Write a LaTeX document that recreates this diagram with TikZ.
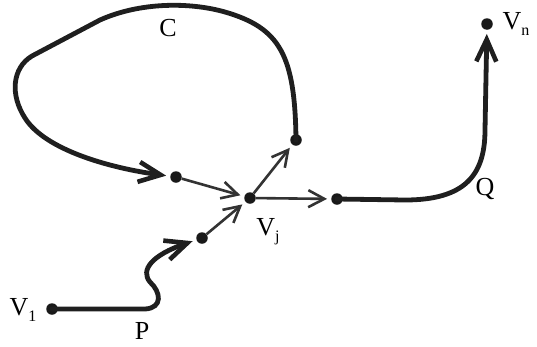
\documentclass[tikz,border=0pt]{standalone}
\usepackage{fontspec}
\setmainfont{Liberation Serif}
\usetikzlibrary{arrows.meta}
\newcommand\lblsub[1]{\raisebox{-0.5ex}{\fontsize{16}{16}\selectfont #1}}
\begin{document}
\begin{tikzpicture}[x=1pt,y=-1pt,
  dot/.style={circle,fill=black!90,inner sep=0pt,minimum size=11.5pt},
  thickpath/.style={line width=4.8pt,draw=black!88,line cap=round,
    -{Straight Barb[length=22pt,width=20pt,line width=4.6pt]},shorten >=4pt},
  thinarrow/.style={line width=2.6pt,draw=black!80,
    -{Straight Barb[length=16pt,width=17pt,line width=2.6pt]},shorten >=4pt},
  lbl/.style={font=\fontsize{26}{26}\selectfont,inner sep=0pt}]
\useasboundingbox (0,0) rectangle (537,346);
% dots
\node[dot] (v1) at (52,309) {};
\node[dot] (a) at (202,238) {};
\node[dot] (vj) at (250,198) {};
\node[dot] (b) at (176,177) {};
\node[dot] (c) at (296,140) {};
\node[dot] (d) at (337,199) {};
\node[dot] (vn) at (487,24) {};
% labels
\node[lbl] (lc) at (168,28) {C};
\node[lbl] (lvj) at (268,232) {V\lblsub{j}};
\node[lbl] (lv1) at (23,310) {V\lblsub{1}};
\node[lbl] (lp) at (142,331) {P};
\node[lbl] (lq) at (485,189) {Q};
\node[lbl] (lvn) at (516,24) {V\lblsub{n}};
% thick paths
\draw[thickpath] (v1.center) -- (145,309) .. controls (163,308) and (161,292) .. (150,282)
  .. controls (140,270) and (152,255) .. (a);
\draw[thickpath] (c.center) .. controls (295,55) and (280,28) .. (225,12)
  .. controls (190,2) and (140,2) .. (100,20) -- (32,56)
  .. controls (12,68) and (10,95) .. (25,118)
  .. controls (45,150) and (110,168) .. (b);
\draw[thickpath] (d.center) -- (405,200) .. controls (465,200) and (485,175) .. (485,130) -- (vn);
% thin arrows
\draw[thinarrow] (b) -- (vj);
\draw[thinarrow] (a) -- (vj);
\draw[thinarrow] (vj) -- (c);
\draw[thinarrow] (vj) -- (d);
\end{tikzpicture}
\end{document}
